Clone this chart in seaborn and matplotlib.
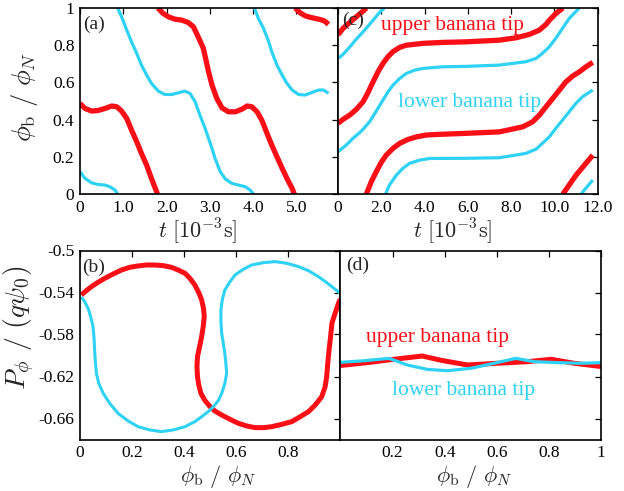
import numpy as np
import pandas as pd
import matplotlib
matplotlib.use("Agg")
import matplotlib.pyplot as plt
import seaborn as sns

# ---------------- data ----------------
# panel (a): phi_b/phi_N vs t [1e-3 s], wrapped segments
a_red_t1 = [0, 0.115, 0.27, 0.42, 0.58, 0.73, 0.85, 0.96, 1.08, 1.19, 1.31, 1.42, 1.54, 1.65, 1.79]
a_red_v1 = [0.487, 0.46, 0.446, 0.449, 0.46, 0.473, 0.469, 0.446, 0.406, 0.344, 0.281, 0.218, 0.155, 0.084, 0.0]
a_red_t2 = [1.80, 1.92, 2.04, 2.19, 2.35, 2.5, 2.62, 2.73, 2.85, 2.97, 3.05, 3.16, 3.28, 3.43, 3.59,
            3.74, 3.86, 3.97, 4.09, 4.2, 4.32, 4.43, 4.55, 4.67, 4.78, 4.9, 4.95]
a_red_v2 = [1.0, 0.971, 0.953, 0.94, 0.935, 0.922, 0.899, 0.845, 0.783, 0.657, 0.585, 0.514, 0.463, 0.442,
            0.442, 0.456, 0.473, 0.469, 0.442, 0.397, 0.326, 0.263, 0.2, 0.138, 0.084, 0.03, 0.0]
a_red_t3 = [4.97, 5.08, 5.2, 5.32, 5.43, 5.55, 5.65, 5.74]
a_red_v3 = [1.0, 0.975, 0.958, 0.95, 0.944, 0.938, 0.93, 0.912]

a_cyan_t1 = [0, 0.115, 0.27, 0.42, 0.58, 0.69, 0.81, 0.87]
a_cyan_v1 = [0.12, 0.084, 0.06, 0.051, 0.048, 0.039, 0.021, 0.0]
a_cyan_t2 = [0.87, 0.96, 1.08, 1.19, 1.31, 1.42, 1.54, 1.65, 1.81, 1.96, 2.12, 2.27, 2.42, 2.54, 2.66,
             2.77, 2.89, 2.97, 3.05, 3.12, 3.24, 3.36, 3.51, 3.66, 3.82, 3.93, 4.01]
a_cyan_v2 = [1.0, 0.953, 0.881, 0.818, 0.756, 0.693, 0.639, 0.595, 0.553, 0.535, 0.535, 0.544, 0.553, 0.541,
             0.496, 0.424, 0.353, 0.299, 0.245, 0.191, 0.12, 0.08, 0.057, 0.048, 0.039, 0.021, 0.0]
a_cyan_t3 = [4.03, 4.12, 4.24, 4.36, 4.43, 4.55, 4.67, 4.78, 4.9, 5.05, 5.2, 5.36, 5.51, 5.63, 5.74]
a_cyan_v3 = [1.0, 0.944, 0.89, 0.818, 0.765, 0.693, 0.639, 0.595, 0.559, 0.535, 0.532, 0.546, 0.559, 0.559, 0.541]

# panel (c): phi_b/phi_N vs t [1e-3 s]
c_red_t0 = [0, 0.23, 0.54, 0.85, 1.16, 1.31]
c_red_v0 = [0.856, 0.89, 0.922, 0.953, 0.983, 1.0]
c_red_t1 = [0, 0.23, 0.54, 0.85, 1.16, 1.39, 1.62, 1.85, 2.08, 2.31, 2.54, 2.85, 3.16, 3.93, 4.85, 5.9,
            7.46, 8.24, 8.85, 9.31, 9.62, 9.78, 10.08, 10.4]
c_red_v1 = [0.38, 0.401, 0.424, 0.455, 0.496, 0.546, 0.603, 0.657, 0.702, 0.738, 0.765, 0.788, 0.8, 0.81,
            0.815, 0.818, 0.827, 0.84, 0.858, 0.881, 0.912, 0.935, 0.971, 1.0]
c_red_t2 = [1.31, 1.54, 1.77, 2.0, 2.23, 2.54, 2.85, 3.23, 3.62, 4.08, 4.54, 5.9, 7.46, 8.54, 9.0, 9.31,
            9.62, 9.93, 10.24, 10.54, 10.85, 11.16, 11.47, 11.78]
c_red_v2 = [0.0, 0.066, 0.12, 0.17, 0.209, 0.245, 0.272, 0.293, 0.307, 0.317, 0.32, 0.326, 0.334, 0.361,
            0.388, 0.424, 0.469, 0.514, 0.559, 0.603, 0.634, 0.657, 0.684, 0.708]
c_red_t3 = [10.4, 11.0, 11.78]
c_red_v3 = [0.0, 0.10, 0.209]

c_cyan_t0 = [0, 0.23, 0.54, 0.85, 1.16, 1.46, 1.69, 1.92, 2.15]
c_cyan_v0 = [0.729, 0.75, 0.79, 0.833, 0.872, 0.912, 0.944, 0.976, 1.0]
c_cyan_t1 = [0, 0.38, 0.69, 1.08, 1.46, 1.77, 2.08, 2.31, 2.54, 2.85, 3.16, 3.54, 3.93, 4.85, 5.9, 7.46,
             8.68, 9.16, 9.45, 9.77, 10.07, 10.38, 10.69, 11.16]
c_cyan_v1 = [0.227, 0.263, 0.299, 0.338, 0.388, 0.446, 0.505, 0.549, 0.585, 0.621, 0.648, 0.666, 0.675,
             0.684, 0.686, 0.693, 0.711, 0.729, 0.756, 0.791, 0.837, 0.89, 0.944, 1.0]
c_cyan_t2 = [2.2, 2.38, 2.69, 3.0, 3.31, 3.77, 4.23, 5.9, 7.46, 8.68, 9.16, 9.45, 9.77, 10.07, 10.38,
             10.69, 11.0, 11.31, 11.78]
c_cyan_v2 = [0.0, 0.048, 0.10, 0.138, 0.165, 0.182, 0.191, 0.192, 0.195, 0.218, 0.241, 0.272, 0.307,
             0.353, 0.397, 0.442, 0.487, 0.523, 0.559]
c_cyan_t3 = [11.24, 11.78]
c_cyan_v3 = [0.0, 0.075]

# panel (b): P_phi/(q psi_0) vs phi_b/phi_N
b_red_x = [0.005, 0.024, 0.044, 0.069, 0.095, 0.127, 0.159, 0.191, 0.223, 0.255, 0.287, 0.319, 0.351,
           0.377, 0.403, 0.422, 0.441, 0.456, 0.467, 0.474, 0.477, 0.473, 0.467, 0.459, 0.451, 0.449,
           0.451, 0.456, 0.464, 0.480, 0.499, 0.518, 0.544, 0.576, 0.608, 0.640, 0.672, 0.704, 0.736,
           0.774, 0.813, 0.845, 0.877, 0.903, 0.928, 0.941, 0.947, 0.951, 0.956, 0.962, 0.967, 0.977,
           0.986, 0.992, 0.999]
b_red_y = [-0.5424, -0.5383, -0.5344, -0.5303, -0.5265, -0.5224, -0.5186, -0.5160, -0.5147, -0.5138,
           -0.5138, -0.5144, -0.5160, -0.5186, -0.5217, -0.5265, -0.5329, -0.5402, -0.5471, -0.5550,
           -0.5630, -0.5725, -0.5820, -0.5916, -0.6011, -0.6106, -0.6202, -0.6281, -0.6360, -0.6430,
           -0.6487, -0.6529, -0.6567, -0.6608, -0.6646, -0.6671, -0.6687, -0.6687, -0.6678, -0.6656,
           -0.6630, -0.6583, -0.6535, -0.6471, -0.6392, -0.6297, -0.6202, -0.6075, -0.5948, -0.5821,
           -0.5694, -0.5614, -0.5550, -0.5503, -0.5465]
b_cyan_x = [0.005, 0.018, 0.031, 0.041, 0.050, 0.054, 0.056, 0.059, 0.063, 0.072, 0.089, 0.114, 0.146,
            0.185, 0.223, 0.268, 0.313, 0.358, 0.403, 0.441, 0.467, 0.492, 0.512, 0.531, 0.544, 0.556,
            0.563, 0.560, 0.556, 0.550, 0.544, 0.541, 0.541, 0.546, 0.556, 0.576, 0.595, 0.627, 0.659,
            0.704, 0.749, 0.794, 0.839, 0.877, 0.915, 0.947, 0.967, 0.986, 0.999]
b_cyan_y = [-0.5443, -0.5487, -0.5550, -0.5630, -0.5725, -0.5836, -0.5948, -0.6059, -0.6170, -0.6265,
            -0.6360, -0.6455, -0.6551, -0.6624, -0.6678, -0.6709, -0.6725, -0.6709, -0.6678, -0.6630,
            -0.6583, -0.6535, -0.6487, -0.6430, -0.6360, -0.6265, -0.6170, -0.6075, -0.5979, -0.5884,
            -0.5789, -0.5678, -0.5567, -0.5471, -0.5376, -0.5297, -0.5233, -0.5179, -0.5138, -0.5116,
            -0.5106, -0.5122, -0.5154, -0.5192, -0.5249, -0.5306, -0.5344, -0.5383, -0.5408]

# panel (d)
d_red_x = [0, 0.103, 0.205, 0.314, 0.385, 0.487, 0.603, 0.718, 0.808, 0.897, 1.0]
d_red_y = [-0.6095, -0.6068, -0.6036, -0.6005, -0.6045, -0.609, -0.6074, -0.6059, -0.6036, -0.6074, -0.6105]
d_cyan_x = [0, 0.09, 0.186, 0.256, 0.333, 0.41, 0.5, 0.59, 0.673, 0.744, 0.833, 0.923, 1.0]
d_cyan_y = [-0.6065, -0.605, -0.6027, -0.609, -0.6132, -0.6145, -0.6122, -0.6074, -0.6027, -0.6059,
            -0.6068, -0.6074, -0.6068]

a_xticks = [0, 1, 2, 3, 4, 5]
a_xlabels = ["0", "1.0", "2.0", "3.0", "4.0", "5.0"]
c_xticks = [0, 2, 4, 6, 8, 10, 12]
c_xlabels = ["0", "2.0", "4.0", "6.0", "8.0", "10.0", "12.0"]
top_yticks = [0, 0.2, 0.4, 0.6, 0.8, 1.0]
top_ylabels = ["0", "0.2", "0.4", "0.6", "0.8", "1"]
b_xticks = [0, 0.2, 0.4, 0.6, 0.8]
b_xlabels = ["0", "0.2", "0.4", "0.6", "0.8"]
d_xticks = [0.2, 0.4, 0.6, 0.8, 1.0]
d_xlabels = ["0.2", "0.4", "0.6", "0.8", "1"]
bot_yticks = [-0.5, -0.54, -0.58, -0.62, -0.66]
bot_ylabels = ["-0.5", "-0.54", "-0.58", "-0.62", "-0.66"]

# ---------------- style ----------------
sns.set_theme(style="white")
plt.rcParams["font.family"] = ["Liberation Serif", "DejaVu Serif"]
plt.rcParams["mathtext.fontset"] = "cm"
plt.rcParams["axes.unicode_minus"] = False

RED = "#fb0f17"
CYAN = "#2ed2f4"
TICK_FS = 12.5

W, H = 624, 491
fig = plt.figure(figsize=(W / 100, H / 100), dpi=100)


def px_axes(x0, x1, y0, y1):
    return fig.add_axes([x0 / W, 1 - y1 / H, (x1 - x0) / W, (y1 - y0) / H])


axa = px_axes(80, 338, 8, 194)
axc = px_axes(338, 597.5, 8, 194)
axb = px_axes(80, 340.5, 250.5, 439.5)
axd = px_axes(340.5, 601, 250.5, 439.5)


def line(ax, x, y, color, lw):
    df = pd.DataFrame({"x": x, "y": y})
    sns.lineplot(data=df, x="x", y="y", sort=False, estimator=None, color=color,
                 lw=lw, ax=ax, legend=False, solid_capstyle="butt", solid_joinstyle="round")


for t, v in [(a_cyan_t1, a_cyan_v1), (a_cyan_t2, a_cyan_v2), (a_cyan_t3, a_cyan_v3)]:
    line(axa, t, v, CYAN, 2.3)
for t, v in [(a_red_t1, a_red_v1), (a_red_t2, a_red_v2), (a_red_t3, a_red_v3)]:
    line(axa, t, v, RED, 3.8)

for t, v in [(c_red_t0, c_red_v0), (c_red_t1, c_red_v1), (c_red_t2, c_red_v2), (c_red_t3, c_red_v3)]:
    line(axc, t, v, RED, 3.8)
for t, v in [(c_cyan_t0, c_cyan_v0), (c_cyan_t1, c_cyan_v1), (c_cyan_t2, c_cyan_v2), (c_cyan_t3, c_cyan_v3)]:
    line(axc, t, v, CYAN, 2.3)

line(axb, b_red_x, b_red_y, RED, 3.6)
line(axb, b_cyan_x, b_cyan_y, CYAN, 2.2)

line(axd, d_red_x, d_red_y, RED, 3.6)
line(axd, d_cyan_x, d_cyan_y, CYAN, 2.3)

for ax in (axa, axc, axb, axd):
    for s in ax.spines.values():
        s.set_color("black")
        s.set_linewidth(1.2)
        s.set_visible(True)
    ax.tick_params(direction="in", top=True, right=True, length=4, width=0.9,
                   labelsize=TICK_FS, colors="black", pad=4)
    ax.set_xlabel("")
    ax.set_ylabel("")

axa.set_xlim(0, 5.96)
axa.set_ylim(0, 1)
axa.set_xticks(a_xticks, a_xlabels)
axa.set_yticks(top_yticks, top_ylabels)

axc.set_xlim(0, 12)
axc.set_ylim(0, 1)
axc.set_xticks(c_xticks, c_xlabels)
axc.set_yticks(top_yticks, [""] * len(top_yticks))

axb.set_xlim(0, 1)
axb.set_ylim(-0.68, -0.5)
axb.set_xticks(b_xticks, b_xlabels)
axb.set_yticks(bot_yticks, bot_ylabels)

axd.set_xlim(0, 1)
axd.set_ylim(-0.68, -0.5)
axd.set_xticks(d_xticks, d_xlabels)
axd.set_yticks(bot_yticks, [""] * len(bot_yticks))

# axis labels
xl_t = r"$t\ [10^{-3}\mathrm{s}]$"
xl_phi = r"$\phi_{\mathrm{b}}\ /\ \phi_N$"
axa.set_xlabel(xl_t, fontsize=16)
axa.xaxis.set_label_coords(0.457, -0.122)
axc.set_xlabel(xl_t, fontsize=16)
axc.xaxis.set_label_coords(0.442, -0.122)
axa.set_ylabel(xl_phi, fontsize=19)
axa.yaxis.set_label_coords(-0.155, 0.52)
axb.set_xlabel(xl_phi, fontsize=16)
axb.xaxis.set_label_coords(0.53, -0.122)
axd.set_xlabel(xl_phi, fontsize=16)
axd.xaxis.set_label_coords(0.514, -0.122)
axb.set_ylabel(r"$P_\phi\ /\ (q\psi_0)$", fontsize=20)
axb.yaxis.set_label_coords(-0.165, 0.59)

# panel letters
axa.text(0.012, 0.91, "(a)", transform=axa.transAxes, fontsize=14, va="center", ha="left")
axc.text(0.015, 0.935, "(c)", transform=axc.transAxes, fontsize=14, va="center", ha="left")
axb.text(0.008, 0.91, "(b)", transform=axb.transAxes, fontsize=14, va="center", ha="left")
axd.text(0.02, 0.92, "(d)", transform=axd.transAxes, fontsize=14, va="center", ha="left")

# annotations
axc.text(5.3, 0.905, "upper banana tip", color=RED, fontsize=15.5, ha="center", va="center")
axc.text(6.1, 0.49, "lower banana tip", color=CYAN, fontsize=15.5, ha="center", va="center")
axd.text(0.373, -0.5833, "upper banana tip", color=RED, fontsize=15.5, ha="center", va="center")
axd.text(0.473, -0.6329, "lower banana tip", color=CYAN, fontsize=15.5, ha="center", va="center")

fig.savefig("out.png", dpi=100)
